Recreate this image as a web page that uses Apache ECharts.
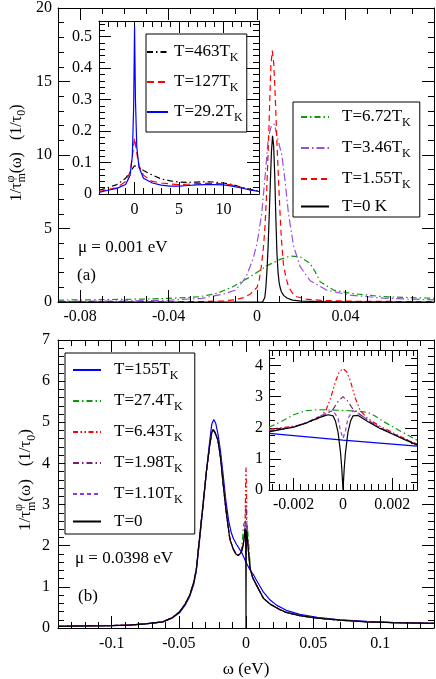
<!DOCTYPE html>
<html><head><meta charset="utf-8">
<script src="https://cdn.jsdelivr.net/npm/echarts@6/dist/echarts.min.js"></script>
<style>html,body{margin:0;padding:0;background:#fff}#c{width:436px;height:679px}</style>
</head><body><div id="c"></div>
<script>
// ================= DATA =================
// Panel (a) main: omega (eV) vs 1/tau (1/tau0)
const a_T672 = [[-0.09,0.13],[-0.07,0.16],[-0.05,0.2],[-0.04,0.25],[-0.03,0.32],[-0.026,0.36],[-0.018,0.59],[-0.011,1.04],[-0.0032,1.7],[0.0044,2.46],[0.0104,2.9],[0.015,3.12],[0.0195,3.07],[0.024,2.62],[0.0263,2.05],[0.0285,1.38],[0.0346,0.81],[0.042,0.59],[0.057,0.36],[0.08,0.25]];
const a_T346 = [[-0.09,0.04],[-0.06,0.07],[-0.04,0.12],[-0.025,0.25],[-0.015,0.55],[-0.01,0.8],[-0.0077,1.15],[-0.005,1.7],[-0.0032,2.4],[-0.0015,3.1],[0,4.0],[0.0021,6.0],[0.0036,8.5],[0.0051,11.2],[0.0065,12.0],[0.0078,12.1],[0.009,11.3],[0.0112,10.0],[0.0127,8.2],[0.0142,6.0],[0.0165,3.8],[0.0195,2.4],[0.024,1.45],[0.0316,0.8],[0.042,0.47],[0.057,0.26],[0.08,0.14]];
const a_T155 = [[-0.09,0],[-0.04,0.01],[-0.025,0.03],[-0.015,0.08],[-0.01,0.15],[-0.006,0.3],[-0.003,0.55],[0,1.0],[0.001,1.5],[0.002,2.5],[0.003,3.9],[0.0036,5.2],[0.0042,7.0],[0.0047,8.9],[0.0053,11.5],[0.0058,14.0],[0.0063,16.2],[0.0069,17.1],[0.0075,16.3],[0.008,14.8],[0.0085,12.9],[0.009,10.8],[0.0097,8.3],[0.0104,6.0],[0.011,4.3],[0.0119,2.6],[0.013,1.7],[0.0142,1.04],[0.016,0.6],[0.018,0.36],[0.022,0.2],[0.03,0.1],[0.045,0.05],[0.08,0.02]];
const a_T0 = [[-0.09,0],[0.0025,0],[0.003,0.05],[0.0035,0.3],[0.004,1.0],[0.0045,2.2],[0.005,3.8],[0.0055,5.9],[0.006,8.1],[0.0065,10.2],[0.007,11.3],[0.0075,10.6],[0.008,8.6],[0.0085,5.7],[0.009,3.3],[0.0095,2.0],[0.01,1.3],[0.0105,0.95],[0.011,0.7],[0.012,0.45],[0.0135,0.27],[0.016,0.13],[0.02,0.06],[0.03,0.02],[0.08,0]];
// Panel (a) inset: omega/T_K vs 1/tau
const ai_T463 = [[-4,0.012],[-3,0.02],[-2,0.03],[-1,0.05],[-0.5,0.07],[0,0.09],[0.5,0.085],[1,0.075],[2,0.06],[3,0.048],[4,0.042],[5,0.038],[6,0.037],[7,0.038],[8,0.039],[9,0.038],[10,0.035],[11,0.03],[12,0.022],[13,0.015],[14,0.009]];
const ai_T127 = [[-4,0.008],[-3,0.014],[-2,0.02],[-1,0.04],[-0.5,0.07],[-0.25,0.12],[0,0.178],[0.25,0.13],[0.5,0.09],[1,0.06],[2,0.04],[3,0.035],[4,0.032],[5,0.03],[6,0.031],[7,0.033],[8,0.034],[9,0.034],[10,0.032],[11,0.028],[12,0.021],[13,0.014],[14,0.008]];
const ai_T292 = [[-4,0.005],[-3,0.012],[-2,0.018],[-1,0.03],[-0.5,0.06],[-0.25,0.12],[-0.1,0.28],[0,0.535],[0.1,0.3],[0.25,0.15],[0.5,0.085],[1,0.05],[2,0.035],[3,0.028],[4,0.025],[5,0.025],[6,0.027],[7,0.029],[8,0.03],[9,0.03],[10,0.029],[11,0.025],[12,0.019],[13,0.013],[14,0.008]];
// Panel (b) main, away from omega = 0
const b_base = [[-0.14,0.04],[-0.12,0.05],[-0.1,0.06],[-0.087,0.07],[-0.075,0.1],[-0.062,0.15],[-0.055,0.25],[-0.0495,0.39],[-0.045,0.6],[-0.042,0.79],[-0.039,1.1],[-0.037,1.42],[-0.0345,2.22],[-0.032,3.0],[-0.0295,3.8],[-0.027,4.45],[-0.0255,4.75],[-0.0245,4.82],[-0.023,4.75],[-0.0208,4.55],[-0.019,4.15],[-0.017,3.5],[-0.015,2.9],[-0.0133,2.46],[-0.012,2.16],[-0.0095,1.92],[-0.0075,1.8],[-0.0058,1.76],[-0.0045,1.79],[-0.0035,1.84],[0.0035,1.4],[0.005,1.22],[0.008,1.03],[0.013,0.72],[0.018,0.58],[0.025,0.45],[0.03,0.38],[0.04,0.3],[0.053,0.24],[0.07,0.19],[0.09,0.15],[0.11,0.13],[0.14,0.11]];
const b_T155 = [[-0.14,0.04],[-0.12,0.05],[-0.1,0.06],[-0.087,0.07],[-0.075,0.1],[-0.062,0.15],[-0.055,0.24],[-0.0495,0.37],[-0.045,0.57],[-0.042,0.76],[-0.039,1.05],[-0.037,1.38],[-0.0345,2.15],[-0.032,2.95],[-0.0295,3.8],[-0.027,4.55],[-0.0255,4.95],[-0.024,5.07],[-0.0225,4.97],[-0.0208,4.7],[-0.019,4.3],[-0.017,3.72],[-0.015,3.1],[-0.013,2.62],[-0.011,2.32],[-0.0095,2.18],[-0.007,2.03],[-0.0045,1.9],[0.0055,1.3],[0.008,1.15],[0.013,0.87],[0.018,0.68],[0.023,0.55],[0.03,0.43],[0.04,0.33],[0.053,0.26],[0.07,0.2],[0.09,0.16],[0.11,0.13],[0.14,0.11]];
// Panel (b) inset: omega (eV) in [-0.003, 0.003]
const bi_T155 = [[-0.003,1.82],[0,1.6],[0.003,1.41]];
const bi_T274 = [[-0.003,2.02],[-0.0025,2.2],[-0.002,2.42],[-0.0015,2.55],[-0.001,2.58],[-0.0005,2.57],[0,2.56],[0.0005,2.54],[0.001,2.5],[0.0013,2.38],[0.0016,2.22],[0.002,2.04],[0.0025,1.82],[0.003,1.6]];
const bi_T643 = [[-0.003,1.95],[-0.002,2.05],[-0.0015,2.15],[-0.001,2.3],[-0.0007,2.55],[-0.0005,2.95],[-0.0003,3.5],[-0.00015,3.8],[0,3.9],[0.00015,3.8],[0.0003,3.5],[0.0005,2.95],[0.0007,2.55],[0.001,2.3],[0.0015,2.05],[0.002,1.85],[0.0025,1.65],[0.003,1.48]];
const bi_T198 = [[-0.003,1.9],[-0.002,2.03],[-0.0015,2.16],[-0.001,2.33],[-0.0007,2.42],[-0.0004,2.6],[-0.0002,2.85],[0,3.0],[0.0002,2.85],[0.0004,2.6],[0.0007,2.42],[0.001,2.25],[0.0015,2.0],[0.002,1.82],[0.0025,1.64],[0.003,1.46]];
const bi_T110 = [[-0.003,1.88],[-0.002,2.03],[-0.0015,2.16],[-0.001,2.35],[-0.0006,2.5],[-0.0004,2.55],[-0.0002,2.3],[-0.0001,1.9],[0,1.66],[0.0001,1.9],[0.0002,2.3],[0.0004,2.55],[0.0006,2.48],[0.001,2.25],[0.0015,2.0],[0.002,1.82],[0.0025,1.64],[0.003,1.46]];
const bi_T0 = [[-0.003,1.87],[-0.0025,1.95],[-0.002,2.02],[-0.0015,2.15],[-0.001,2.32],[-0.0006,2.42],[-0.0004,2.38],[-0.0003,2.2],[-0.0002,1.85],[-0.0001,1.2],[-0.00005,0.7],[0,0],[0.00005,0.7],[0.0001,1.2],[0.0002,1.85],[0.0003,2.2],[0.0004,2.38],[0.0006,2.4],[0.001,2.2],[0.0015,1.98],[0.002,1.8],[0.0025,1.62],[0.003,1.45]];
// Tick labels
const a_xTicks = [-0.08,-0.04,0,0.04];
const a_yTicks = [0,5,10,15,20];
const ai_xTicks = [0,5,10];
const ai_yTicks = [0,0.1,0.2,0.3,0.4,0.5];
const b_xTicks = [-0.1,-0.05,0,0.05,0.1];
const b_yTicks = [0,1,2,3,4,5,6,7];
const bi_xTicks = [-0.002,0,0.002];
const bi_yTicks = [0,1,2,3,4];

// ================= BUILD =================
const FONT = 'Liberation Serif';
const chart = echarts.init(document.getElementById('c'), null, {renderer:'canvas'});

function steps(a, b, step) {
  const out = [];
  for (let i = Math.ceil(a/step - 1e-9); i*step <= b + step*1e-6; i++) out.push(+(i*step).toFixed(10));
  return out;
}
function merge(broad, fine) {
  return broad.filter(p => Math.abs(p[0]) > 0.003).concat(fine).sort((p,q) => p[0]-q[0]);
}

const grids = [
  {left:58, top:7, width:376, height:295},
  {left:99, top:21, width:160, height:173, z:5, show:true, backgroundColor:'#fff', borderWidth:0},
  {left:58, top:340, width:376, height:293},
  {left:269, top:350, width:148, height:140, z:5, show:true, backgroundColor:'#fff', borderWidth:0}
];

function makeAxes(dim, gi, min, max, majors, minors, z, labelOpt, extra) {
  const sides = dim === 'x' ? ['bottom','top'] : ['left','right'];
  const out = [];
  sides.forEach((pos, si) => {
    [true, false].forEach(isMajor => {
      const labeled = si === 0 && isMajor;
      out.push(Object.assign({
        type:'value', gridIndex:gi, min:min, max:max, position:pos, z:z, silent:true,
        axisLine:{show:isMajor, onZero:false, lineStyle:{color:'#000', width:1}},
        axisTick:{show:true, inside:true, length:isMajor?12:6, customValues:isMajor?majors:minors, lineStyle:{color:'#000', width:1}},
        axisLabel: labeled ? Object.assign({show:true, customValues:majors, color:'#000', fontFamily:FONT, fontSize:16}, labelOpt) : {show:false},
        splitLine:{show:false}, minorTick:{show:false}, minorSplitLine:{show:false}
      }, labeled ? (extra || {}) : {}));
    });
  });
  return out;
}

const xAxes = [].concat(
  makeAxes('x', 0, -0.09, 0.08, a_xTicks, steps(-0.09,0.08,0.01), 3, {margin:7}),
  makeAxes('x', 1, -4, 14, ai_xTicks, steps(-4,14,1), 6, {margin:8}),
  makeAxes('x', 2, -0.14, 0.14, b_xTicks, steps(-0.14,0.14,0.01), 3, {margin:8},
    {name:'ω (eV)', nameLocation:'middle', nameGap:33, nameTextStyle:{fontFamily:FONT, fontSize:17, color:'#000'}}),
  makeAxes('x', 3, -0.003, 0.003, bi_xTicks, steps(-0.003,0.003,0.002/7), 6, {margin:7})
);
const yAxes = [].concat(
  makeAxes('y', 0, 0, 20, a_yTicks, steps(0,20,1), 3, {margin:6}),
  makeAxes('y', 1, 0, 0.55, ai_yTicks, steps(0,0.55,0.02), 6, {margin:7}),
  makeAxes('y', 2, 0, 7, b_yTicks, steps(0,7,0.2), 3, {margin:8}),
  makeAxes('y', 3, 0, 4.5, bi_yTicks, steps(0,4.5,0.25), 6, {margin:6})
);

function ser(name, data, gi, color, dash, z) {
  return {type:'line', name:name, data:data, xAxisIndex:4*gi, yAxisIndex:4*gi, symbol:'none', showSymbol:false,
    smooth:false, clip:true, silent:true, animation:false, z:z,
    lineStyle:{color:color, width:1.2, type:dash || 'solid'}, itemStyle:{color:color}};
}
const GREEN = '#0a9a0a', PURPLE = '#9650dc', RED = '#ff0000', BLUE = '#0000ff', MAROON = '#7a1f6e', VIOLET = '#8a3ad8';
const D_dashdot = [6,3,1.5,3], D_dd = [5,2.5,1.5,2.5,1.5,2.5];
const series = [
  ser('T=6.72T_K', a_T672, 0, GREEN, [6,3,1.5,3], 2),
  ser('T=3.46T_K', a_T346, 0, PURPLE, [8,3,1.5,3], 2),
  ser('T=1.55T_K', a_T155, 0, RED, [6,4], 2),
  ser('T=0 K', a_T0, 0, '#000', 'solid', 2),
  ser('T=463T_K', ai_T463, 1, '#000', [6,3,1.5,3], 7),
  ser('T=127T_K', ai_T127, 1, RED, [7,4], 7),
  ser('T=29.2T_K', ai_T292, 1, BLUE, 'solid', 7),
  ser('T=155T_K', merge(b_T155, bi_T155), 2, BLUE, 'solid', 2),
  ser('T=27.4T_K', merge(b_base, bi_T274), 2, GREEN, D_dashdot, 2),
  ser('T=6.43T_K', merge(b_base, bi_T643), 2, RED, D_dd, 2),
  ser('T=1.98T_K', merge(b_base, bi_T198), 2, MAROON, D_dashdot, 2),
  ser('T=1.10T_K', merge(b_base, bi_T110), 2, VIOLET, [4,3], 2),
  ser('T=0', merge(b_base, bi_T0), 2, '#000', 'solid', 2),
  ser('in T=155T_K', bi_T155, 3, BLUE, 'solid', 7),
  ser('in T=27.4T_K', bi_T274, 3, GREEN, D_dashdot, 7),
  ser('in T=6.43T_K', bi_T643, 3, RED, D_dd, 7),
  ser('in T=1.98T_K', bi_T198, 3, MAROON, D_dashdot, 7),
  ser('in T=1.10T_K', bi_T110, 3, VIOLET, [4,3], 7),
  ser('in T=0', bi_T0, 3, '#000', 'solid', 7)
];

function fmt(n) {
  const m = n.match(/^(.*T)_K$/);
  return m ? '{t|' + m[1] + '}{s|K}' : '{t|' + n + '}';
}
function legendCfg(names, left, top, itemWidth, itemGap, padding, padL, z) {
  return {data:names, left:left, top:top, orient:'vertical', itemWidth:itemWidth, itemHeight:14, itemGap:itemGap,
    padding:padding, selectedMode:false, backgroundColor:'#fff', borderColor:'#000', borderWidth:1, borderRadius:0, z:z,
    itemStyle:{color:'rgba(0,0,0,0)', borderColor:'rgba(0,0,0,0)', borderWidth:0, opacity:0},
    formatter:fmt,
    textStyle:{fontFamily:FONT, fontSize:17, color:'#000', rich:{
      t:{fontFamily:FONT, fontSize:17, color:'#000', lineHeight:20, padding:[0,0,0,padL]},
      s:{fontFamily:FONT, fontSize:12, color:'#000', lineHeight:20, padding:[12,0,0,0]}
    }}};
}
const legends = [
  legendCfg(['T=6.72T_K','T=3.46T_K','T=1.55T_K','T=0 K'], 293, 102, 28, 7, [3,9,2,7], 8, 20),
  legendCfg(['T=463T_K','T=127T_K','T=29.2T_K'], 146, 34, 21, 6, [6,4,8,0], 1, 20),
  legendCfg(['T=155T_K','T=27.4T_K','T=6.43T_K','T=1.98T_K','T=1.10T_K','T=0'], 65, 353, 28, 7, [5,12,4,7], 8, 20)
];

function yTitle(cx, cy, size, parts) {
  const ctx = document.createElement('canvas').getContext('2d');
  const sub = Math.round(size*0.72);
  const items = []; let x = 0;
  parts.forEach(p => {
    if (p.t) {
      ctx.font = size + 'px "' + FONT + '"';
      items.push({text:p.t, x:x, y:0, size:size}); x += ctx.measureText(p.t).width;
    } else {
      ctx.font = sub + 'px "' + FONT + '"'; let w = 0;
      if (p.sup) { items.push({text:p.sup, x:x, y:-size*0.4, size:sub}); w = Math.max(w, ctx.measureText(p.sup).width); }
      if (p.sub) { items.push({text:p.sub, x:x, y:size*0.32, size:sub}); w = Math.max(w, ctx.measureText(p.sub).width); }
      x += w;
    }
  });
  const W = x;
  return {type:'group', x:cx, y:cy, rotation:Math.PI/2, silent:true, z:30,
    children: items.map(it => ({type:'text', x:it.x - W/2, y:it.y, z:30,
      style:{text:it.text, font:it.size + 'px "' + FONT + '"', fill:'#000', align:'left', verticalAlign:'middle'}}))};
}
function label(text, x, y, size) {
  return {type:'text', x:x, y:y, z:30, silent:true, style:{text:text, font:size + 'px "' + FONT + '"', fill:'#000', align:'left', verticalAlign:'middle'}};
}
const titleParts = [{t:'1/τ'},{sup:'φ', sub:'m'},{t:'(ω)   (1/τ'},{sub:'0'},{t:')'}];
const graphics = [
  yTitle(17, 153, 16, titleParts),
  yTitle(26, 480, 17, titleParts),
  label('μ = 0.001 eV', 78, 248, 17),
  label('(a)', 77, 276, 17),
  label('μ = 0.0398 eV', 75, 559, 17),
  label('(b)', 78, 597, 17)
];

chart.setOption({
  animation:false,
  backgroundColor:'#fff',
  grid:grids, xAxis:xAxes, yAxis:yAxes, series:series, legend:legends, graphic:graphics
});
</script></body></html>
